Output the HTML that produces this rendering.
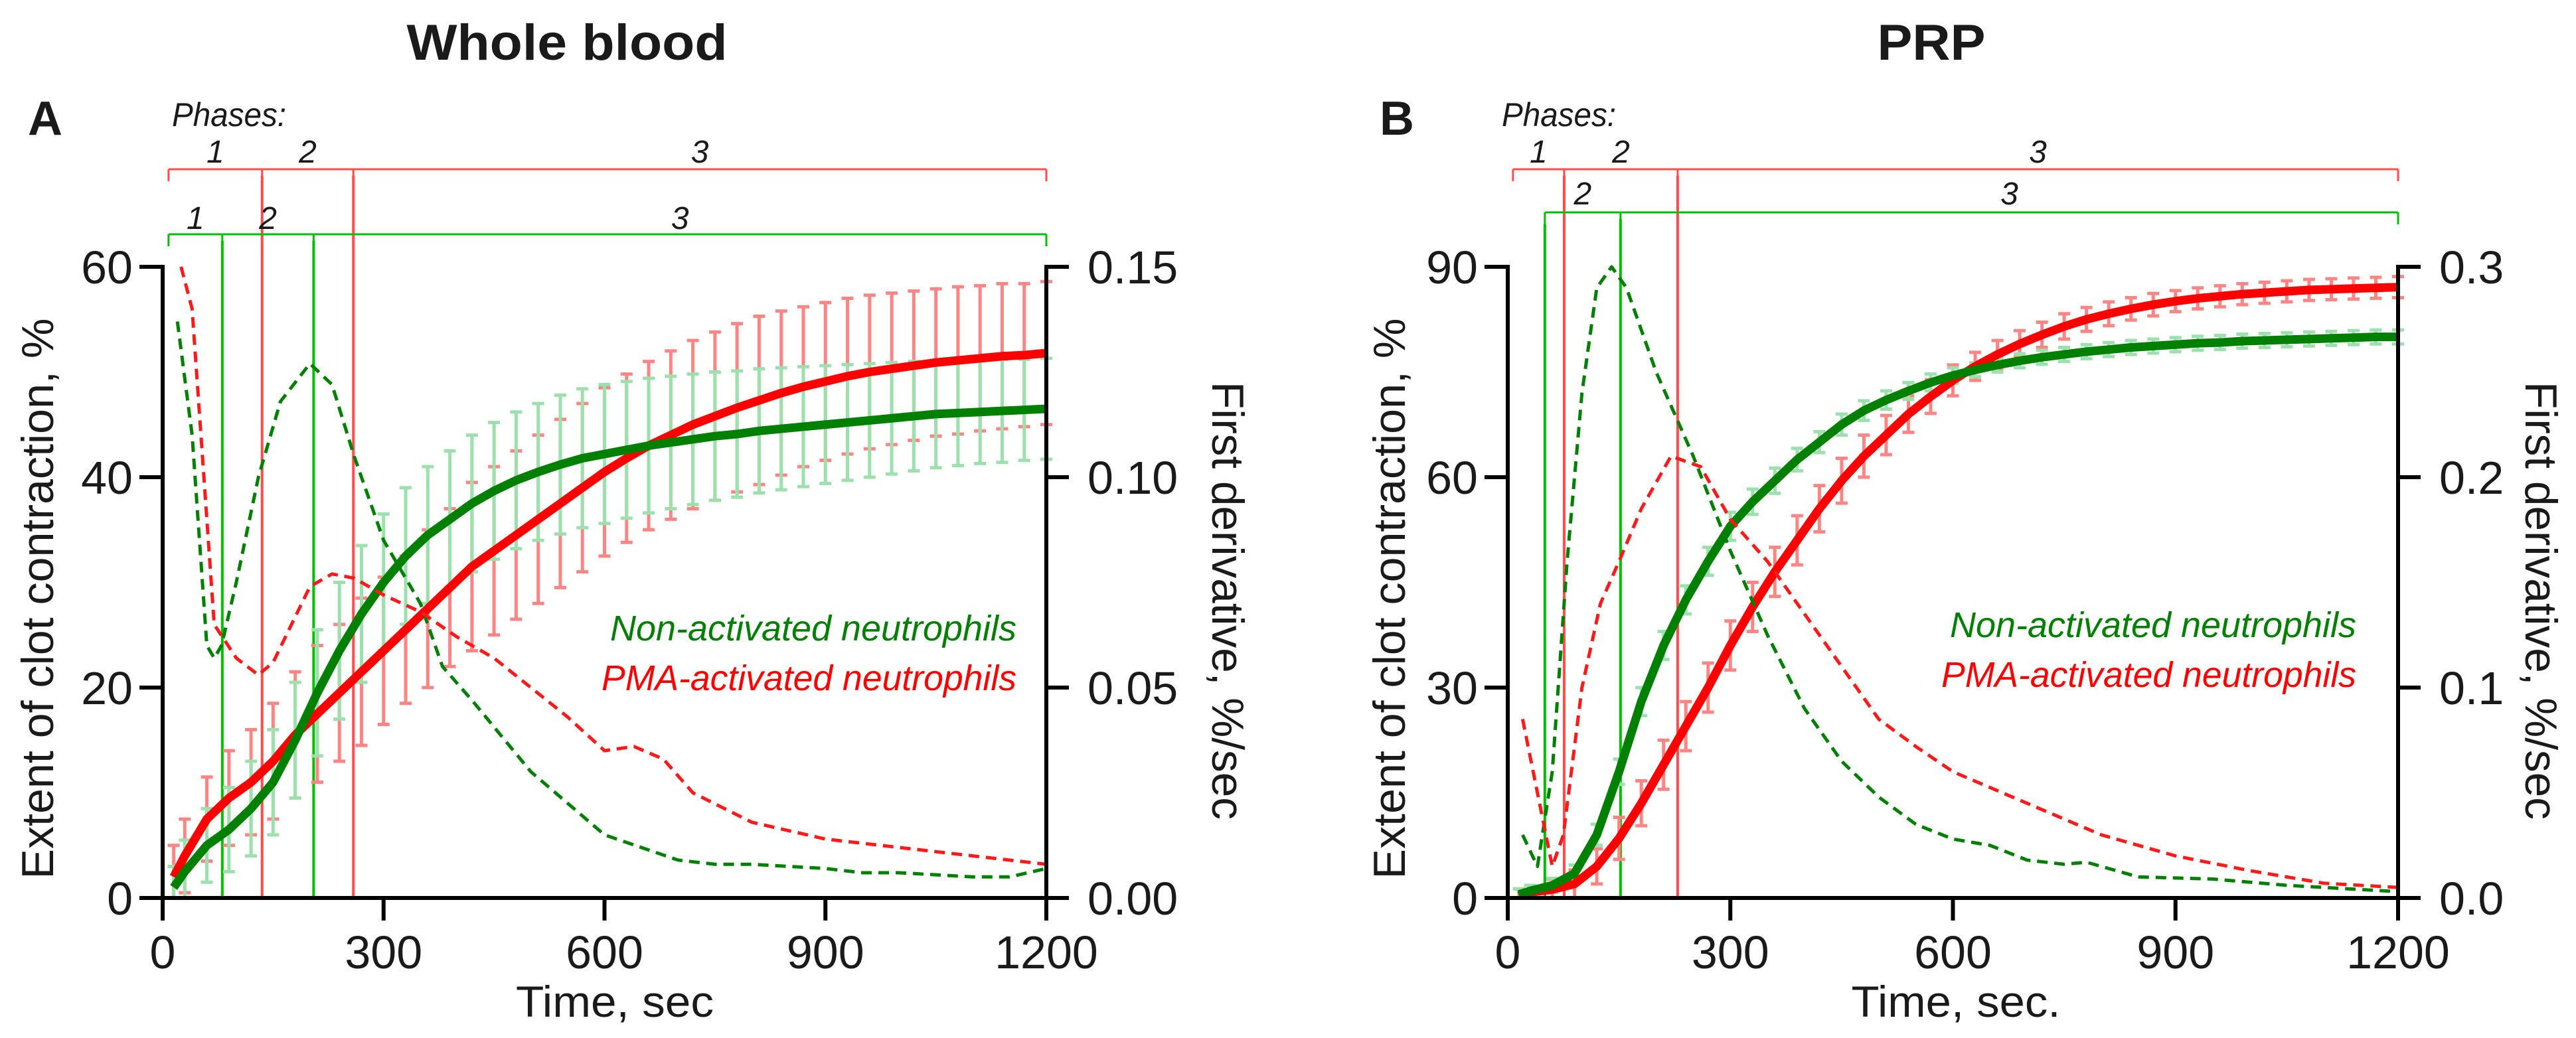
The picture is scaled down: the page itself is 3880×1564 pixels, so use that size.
<!DOCTYPE html>
<html><head><meta charset="utf-8"><style>
html,body{margin:0;padding:0;background:#fff;}
svg{display:block;}
text{font-family:"Liberation Sans",sans-serif;}
</style></head><body>
<svg id="chart" width="3880" height="1564" viewBox="0 0 3880 1564" xmlns="http://www.w3.org/2000/svg">
<g id="root" fill="#1a1a1a"></g>
</svg>
<script>
const times = [15,30,60,90,120,150,180,210,240,270,300,330,360,390,420,450,480,510,540,570,600,630,660,690,720,750,780,810,840,870,900,930,960,990,1020,1050,1080,1110,1140,1170,1200];
const aGreenMean = [1,2.5,5,6.5,8.5,11,15,19.5,23.5,27,30,32.5,34.5,36,37.5,38.7,39.7,40.5,41.2,41.8,42.2,42.6,43,43.3,43.6,43.9,44.1,44.4,44.6,44.8,45,45.2,45.4,45.6,45.8,46,46.1,46.2,46.3,46.4,46.5];
const aGreenSd = [2,3,3.5,4,4.5,5,5.5,6,6.5,6.5,6.5,6.5,6.5,6.5,6.5,6.5,6.5,6.5,6.6,6.6,6.6,6.5,6.4,6.3,6.2,6.1,6,5.9,5.8,5.7,5.6,5.5,5.4,5.3,5.2,5.1,5,4.9,4.9,4.8,4.8];
const aRedMean = [2,4,7.5,9.5,11,13,15.5,17.5,19.5,21.5,23.5,25.5,27.5,29.5,31.5,33,34.5,36,37.5,39,40.5,41.8,43,44,45,45.8,46.6,47.3,48,48.6,49.1,49.6,50,50.3,50.6,50.9,51.1,51.3,51.5,51.6,51.8];
const aRedSd = [3,3.5,4,4.5,5,5.5,6,6.5,6.5,7,7,7,7.5,7.5,8,8,8,8,8,8,8,8,8,8,8,8,8,8,7.8,7.6,7.5,7.4,7.3,7.2,7.1,7,7,6.9,6.9,6.8,6.8];
const aGreenDerivT = [20,40,60,70,80,100,130,160,200,230,260,300,350,380,420,500,600,700,750,800,900,950,1000,1100,1150,1200];
const aGreenDeriv = [0.137,0.11,0.06,0.057,0.06,0.075,0.1,0.118,0.127,0.122,0.105,0.085,0.07,0.055,0.047,0.03,0.015,0.009,0.008,0.008,0.007,0.006,0.006,0.005,0.005,0.007];
const aRedDerivT = [25,40,60,70,100,130,150,200,230,260,300,350,400,450,500,550,600,640,680,720,800,900,1000,1100,1200];
const aRedDeriv = [0.15,0.14,0.09,0.065,0.057,0.053,0.056,0.074,0.077,0.076,0.072,0.068,0.062,0.057,0.05,0.043,0.035,0.036,0.033,0.025,0.018,0.014,0.012,0.01,0.008];

const bGreenMean = [0.5,1,1.8,3.5,9,18,28,36,42.5,48,53,56.5,59.5,62.5,65,67.5,69.5,71,72.3,73.5,74.5,75.3,76,76.6,77.1,77.5,77.9,78.2,78.5,78.7,78.9,79.1,79.2,79.4,79.5,79.6,79.7,79.8,79.9,80,80];
const bGreenSd = [0.8,0.8,1,1.2,1.5,1.8,2,2,2,2,2,1.8,1.8,1.6,1.5,1.5,1.4,1.3,1.2,1.2,1.1,1,1,1,1,1,1,1,1,1,1,1,1,1,1,1,1,1,1,1,1];
const bRedMean = [0.3,0.8,1.2,2,4.5,8.5,13.5,19,24.5,30,36,41.5,46.5,51,55.5,59.5,63,66,69,71.5,73.8,75.8,77.5,79,80.3,81.5,82.5,83.3,84,84.6,85.1,85.5,85.8,86.1,86.3,86.5,86.7,86.8,86.9,87,87.1];
const bRedSd = [1,1,1.5,2,2.5,3,3.2,3.5,3.5,3.5,3.5,3.5,3.5,3.5,3.3,3.2,3,2.8,2.6,2.4,2.2,2,2,1.9,1.8,1.8,1.7,1.7,1.6,1.6,1.5,1.5,1.5,1.5,1.5,1.5,1.5,1.5,1.5,1.5,1.5];
const bGreenDerivT = [20,40,60,80,100,120,140,160,200,250,300,350,400,450,500,550,600,650,700,750,780,850,950,1050,1200];
const bGreenDeriv = [0.03,0.015,0.06,0.16,0.24,0.29,0.3,0.29,0.25,0.21,0.165,0.125,0.09,0.065,0.048,0.035,0.028,0.025,0.018,0.016,0.017,0.01,0.009,0.006,0.003];
const bRedDerivT = [20,40,60,75,100,125,150,180,220,260,300,350,400,450,500,550,600,700,800,900,1000,1100,1200];
const bRedDeriv = [0.085,0.05,0.015,0.03,0.1,0.14,0.16,0.185,0.21,0.205,0.18,0.16,0.135,0.11,0.085,0.072,0.06,0.045,0.03,0.02,0.013,0.007,0.005];

const xTicks = [0,300,600,900,1200];
const aLeftTicks = [0,20,40,60];
const aRightTicks = [0,0.05,0.10,0.15];
const aRightLabels = ["0.00","0.05","0.10","0.15"];
const bLeftTicks = [0,30,60,90];
const bRightTicks = [0,0.1,0.2,0.3];
const bRightLabels = ["0.0","0.1","0.2","0.3"];
const aRedPhases = [8,135,259,1200];
const aGreenPhases = [8,81,205,1200];
const bRedPhases = [7,76,229,1200];
const bGreenPhases = [50,152,1200];

const NS="http://www.w3.org/2000/svg";
const root=document.getElementById('root');
function mk(tag,attrs,parent,txt){const e=document.createElementNS(NS,tag);for(const k in attrs)e.setAttribute(k,attrs[k]);if(txt!==undefined)e.textContent=txt;(parent||root).appendChild(e);return e;}

function panel(c){
  const g=mk('g',{});
  
  
  const X=t=>c.x0+(c.x1-c.x0)*t/1200;
  const Y=v=>c.y0-(c.y0-c.y1)*v/c.ymax;
  const YR=v=>c.y0-(c.y0-c.y1)*v/c.rmax;
  const ti=mk('text',{x:c.titleX,y:90,'font-size':76,'font-weight':'bold','text-anchor':'middle',textLength:c.titleW,lengthAdjust:'spacingAndGlyphs'},g,c.title);
  
  const le=mk('text',{x:c.letterX,y:203,'font-size':72,'font-weight':'bold'},g,c.letter);
  
  const ph=mk('text',{x:c.phasesX,y:190,'font-size':50,'font-style':'italic',textLength:172,lengthAdjust:'spacingAndGlyphs'},g,'Phases:');
  
  function bracket(ph,y,col,ly,name){
    const bg=mk('g',{},g);
    
    mk('line',{x1:X(ph[0]),x2:X(ph[ph.length-1]),y1:y,y2:y,stroke:col,'stroke-width':3},bg);
    ph.forEach((t,i)=>{
      mk('line',{x1:X(t),x2:X(t),y1:y,y2:y+18,stroke:col,'stroke-width':3},bg);
      if(i>0&&i<ph.length-1) mk('line',{x1:X(t),x2:X(t),y1:y+10,y2:c.y0,stroke:col,'stroke-width':4},bg);
      if(i<ph.length-1){
        const n=ph.length===3?i+2:i+1;
        mk('text',{x:(X(t)+X(ph[i+1]))/2,y:ly,'font-size':48,'font-style':'italic','text-anchor':'middle'},bg,String(n));
      }
    });
  }
  bracket(c.redPh,255,'#ff4c4c',245,'red-phase-bracket');
  bracket(c.greenPh,c.greenBy,'#00c000',c.greenLy,'green-phase-bracket');
  if(c.greenPh.length===3){
    const gl=mk('line',{x1:X(c.greenPh[0]),x2:X(c.greenPh[0]),y1:c.greenBy+18,y2:c.y0,stroke:'#00c000','stroke-width':4},g);
    
  }
  function bars(mean,sd,col,name){
    const bg=mk('g',{},g);
    
    times.forEach((t,i)=>{
      const x=X(t),yt=Y(Math.min(c.ymax,mean[i]+sd[i])),yb=Y(Math.max(0,mean[i]-sd[i]));
      mk('line',{x1:x,x2:x,y1:yt,y2:yb,stroke:col,'stroke-width':5},bg);
      mk('line',{x1:x-9,x2:x+9,y1:yt,y2:yt,stroke:col,'stroke-width':5},bg);
      mk('line',{x1:x-9,x2:x+9,y1:yb,y2:yb,stroke:col,'stroke-width':5},bg);
    });
  }
  bars(c.rm,c.rs,'#ff8585','red-error-bars');
  bars(c.gm,c.gs,'#9be0ad','green-error-bars');
  function line(tt,vals,yf,col,w,dash,name){
    const p=mk('polyline',{points:tt.map((t,i)=>X(t)+','+yf(vals[i])).join(' '),fill:'none',stroke:col,'stroke-width':w,'stroke-linejoin':'round'},g);
    if(dash)p.setAttribute('stroke-dasharray',dash);
    
  }
  line(times,c.rm,Y,'#ff0000',13,null,'red-mean-line');
  line(times,c.gm,Y,'#008000',13,null,'green-mean-line');
  line(c.gdT,c.gd,YR,'#008000',5,'16 10','green-derivative-line');
  line(c.rdT,c.rd,YR,'#ff1a1a',5,'16 10','red-derivative-line');
  const ax=mk('g',{stroke:'#000','stroke-width':6},g);
  
  mk('line',{x1:c.x0,x2:c.x0,y1:c.y1-3,y2:c.y0+34},ax);
  mk('line',{x1:c.x0-35,x2:c.x1+3,y1:c.y0,y2:c.y0},ax);
  mk('line',{x1:c.x1,x2:c.x1,y1:c.y1-3,y2:c.y0+34},ax);
  xTicks.forEach(t=>{
    mk('line',{x1:X(t),x2:X(t),y1:c.y0,y2:c.y0+34},ax);
    const tl=mk('text',{x:X(t),y:c.y0+106,'font-size':70,'text-anchor':'middle'},g,String(t));
    
  });
  c.lt.forEach(v=>{
    mk('line',{x1:c.x0-35,x2:c.x0,y1:Y(v),y2:Y(v)},ax);
    const tl=mk('text',{x:c.x0-45,y:Y(v)+25,'font-size':70,'text-anchor':'end'},g,String(v));
    
  });
  c.rt.forEach((v,i)=>{
    mk('line',{x1:c.x1,x2:c.x1+34,y1:YR(v),y2:YR(v)},ax);
    const tl=mk('text',{x:c.x1+62,y:YR(v)+25,'font-size':70},g,c.rl[i]);
    
  });
  const xt=mk('text',{x:c.xtX,y:1532,'font-size':66,'text-anchor':'middle',textLength:c.xtW,lengthAdjust:'spacingAndGlyphs'},g,c.xtitle);
  
  const yt=mk('text',{x:0,y:0,'font-size':68,'text-anchor':'middle',textLength:845,lengthAdjust:'spacingAndGlyphs',transform:`translate(${c.ytX},902) rotate(-90)`},g,'Extent of clot contraction, %');
  
  const rt=mk('text',{x:0,y:0,'font-size':68,'text-anchor':'middle',textLength:660,lengthAdjust:'spacingAndGlyphs',transform:`translate(${c.rtX},905) rotate(90)`},g,'First derivative, %/sec');
  
  const l1=mk('text',{x:c.legX,y:c.legY,'font-size':54,'font-style':'italic','text-anchor':'end',fill:'#008000',style:'fill:#008000',textLength:612,lengthAdjust:'spacingAndGlyphs'},g,'Non-activated neutrophils');
  
  const l2=mk('text',{x:c.legX,y:c.legY+75,'font-size':54,'font-style':'italic','text-anchor':'end',fill:'#ff0000',style:'fill:#ff0000',textLength:625,lengthAdjust:'spacingAndGlyphs'},g,'PMA-activated neutrophils');
  
}

panel({id:'whole-blood',x0:245,x1:1576,y0:1353,y1:402,ymax:60,rmax:0.15,title:'Whole blood',titleX:854,titleW:483,letter:'A',letterX:42,phasesX:259,
  redPh:aRedPhases,greenPh:aGreenPhases,greenBy:353,greenLy:345,gm:aGreenMean,gs:aGreenSd,rm:aRedMean,rs:aRedSd,
  gdT:aGreenDerivT,gd:aGreenDeriv,rdT:aRedDerivT,rd:aRedDeriv,lt:aLeftTicks,rt:aRightTicks,rl:aRightLabels,
  xtitle:'Time, sec',xtX:926,xtW:298,ytX:80,rtX:1826,legX:1531,legY:965});
panel({id:'prp',x0:2271,x1:3612,y0:1353,y1:402,ymax:90,rmax:0.3,title:'PRP',titleX:2909,titleW:163,letter:'B',letterX:2078,phasesX:2262,
  redPh:bRedPhases,greenPh:bGreenPhases,greenBy:320,greenLy:308,gm:bGreenMean,gs:bGreenSd,rm:bRedMean,rs:bRedSd,
  gdT:bGreenDerivT,gd:bGreenDeriv,rdT:bRedDerivT,rd:bRedDeriv,lt:bLeftTicks,rt:bRightTicks,rl:bRightLabels,
  xtitle:'Time, sec.',xtX:2946,xtW:315,ytX:2116,rtX:3804,legX:3549,legY:960});
</script>
</body></html>
